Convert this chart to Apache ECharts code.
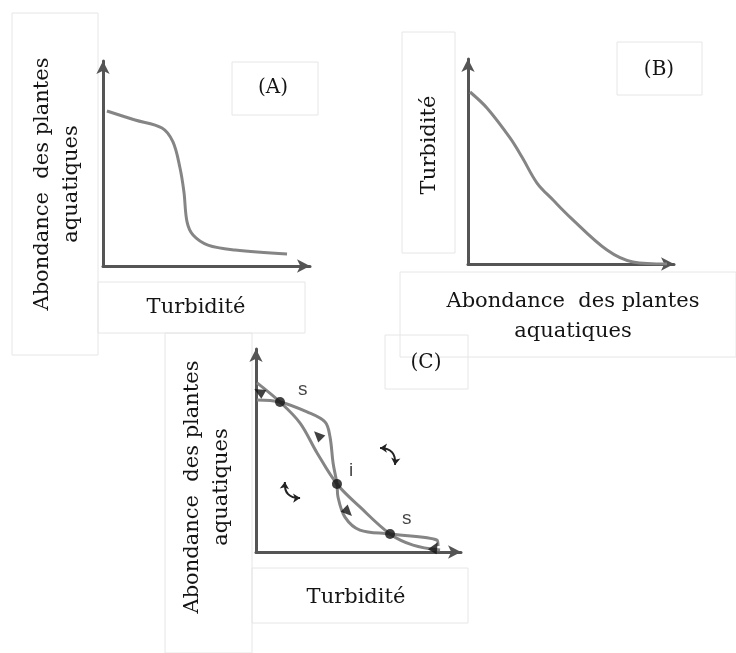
<!DOCTYPE html>
<html>
<head>
<meta charset="utf-8">
<script src="https://cdn.jsdelivr.net/npm/echarts@6/dist/echarts.min.js"></script>
<style>html,body{margin:0;padding:0;background:#fff}#c{width:736px;height:653px}</style>
</head>
<body>
<div id="c"></div>
<script>
// Panel A: abundance of aquatic plants vs turbidity
const curveA = [[1.9,75.6],[15.5,71.2],[28.5,67.3],[33.8,60.5],[37.2,47.8],[39.1,36.1],[40.6,21.5],[43.5,15.1],[50.7,10.2],[63.8,7.8],[88.9,5.9]];
// Panel B: turbidity vs abundance of aquatic plants
const curveB = [[1,83.9],[9.2,76.1],[20.4,61.5],[26.2,52.2],[33.5,39.5],[41.3,31.2],[49.5,22.9],[67.5,6.8],[80.1,1],[96.6,0]];
// Panel C: two curves crossing at equilibria
const curveC1 = [[0.5,83.3],[11.7,73.9],[21.5,63.5],[29.8,48.8],[39.5,33.5],[50.7,22.2],[65.4,8.9],[76.6,3.4],[89.8,1]];
const curveC2 = [[0.5,74.9],[11.7,73.9],[24.9,69],[33.7,64],[36.1,56.7],[37.6,43.8],[39.5,33.5],[40,27.1],[43.4,17.2],[50.7,10.8],[65.4,8.9],[88.3,5.9],[88.8,3]];
const eqPoints = [[11.7,73.9],[39.5,33.5],[65.4,8.9]];
const eqLabels = ['s','i','s'];
const arrowHeads = [[1.5,79],[30.2,57.6],[44.9,19.7],[87.3,2.5]];
const arrowRot = [60,45,-135,-30];
const curlyArrows = [[[14.1,34.5],[21.5,26.6]],[[60.5,51.2],[67.8,42.9]]];
const curlyBend = [-0.55,0.55];

const serif = 'DejaVu Serif';
const txt = '#141414';
const axisCol = '#555';
const curveCol = '#858585';
const boxCol = '#e6e6e6';

function ax(gi){
  return {type:'value',gridIndex:gi,min:0,max:100,
    axisLine:{show:true,symbol:['none','arrow'],symbolSize:[10,13],lineStyle:{color:axisCol,width:3}},
    axisTick:{show:false},axisLabel:{show:false},splitLine:{show:false}};
}
function box(x,y,w,h){return {type:'rect',shape:{x:x,y:y,width:w,height:h},style:{fill:'none',stroke:boxCol,lineWidth:1},z:0};}
function t(x,y,s,size,rot,lh,font){
  return {type:'text',x:x,y:y,rotation:rot||0,z:10,
    style:{text:s,fill:txt,font:(size)+'px "'+(font||serif)+'"',textAlign:'center',textVerticalAlign:'middle',lineHeight:lh||size}};
}

const chart = echarts.init(document.getElementById('c'));
chart.setOption({
  backgroundColor:'#fff',
  animation:false,
  grid:[
    {left:103,top:61,width:207,height:205},
    {left:468,top:59,width:206,height:205},
    {left:256,top:349,width:205,height:203}
  ],
  xAxis:[ax(0),ax(1),ax(2)],
  yAxis:[ax(0),ax(1),ax(2)],
  series:[
    {type:'line',xAxisIndex:0,yAxisIndex:0,data:curveA,smooth:0.35,showSymbol:false,lineStyle:{color:curveCol,width:3}},
    {type:'line',xAxisIndex:1,yAxisIndex:1,data:curveB,smooth:0.35,showSymbol:false,lineStyle:{color:curveCol,width:3}},
    {type:'line',xAxisIndex:2,yAxisIndex:2,data:curveC1,smooth:0.35,showSymbol:false,lineStyle:{color:curveCol,width:3}},
    {type:'line',xAxisIndex:2,yAxisIndex:2,data:curveC2,smooth:0.35,showSymbol:false,lineStyle:{color:curveCol,width:3}},
    {type:'scatter',xAxisIndex:2,yAxisIndex:2,symbolSize:10,itemStyle:{color:'#111'},z:5,
      data:eqPoints.map((p,i)=>({value:p,label:{show:true,formatter:eqLabels[i],position:'right',offset:i===0?[8,-12]:(i===1?[2,-13]:[2,-15]),
        color:txt,fontSize:19,fontFamily:'Liberation Sans'}}))},
    {type:'scatter',xAxisIndex:2,yAxisIndex:2,symbol:'triangle',symbolSize:[10,11],itemStyle:{color:'#111'},z:5,
      data:arrowHeads.map((p,i)=>({value:p,symbolRotate:arrowRot[i]}))},
    {type:'lines',coordinateSystem:'cartesian2d',xAxisIndex:2,yAxisIndex:2,symbol:['arrow','arrow'],symbolSize:7,z:5,
      lineStyle:{color:'#222',width:2,opacity:1},
      data:curlyArrows.map((c,i)=>({coords:c,lineStyle:{curveness:curlyBend[i]}}))}
  ],
  graphic:[
    box(12,13,86,342), box(232,62,86,53), box(98,282,207,51),
    box(402,32,53,221), box(617,42,85,53), box(400,272,336,85),
    box(385,335,83,54), box(165,333,87,320), box(252,568,216,55),
    t(57,184,'Abondance  des plantes\naquatiques',21,Math.PI/2,29),
    t(196,308,'Turbidité',21),
    t(273,88,'(A)',20),
    t(430,145,'Turbidité',21,Math.PI/2),
    t(573,317,'Abondance  des plantes\naquatiques',21,0,30),
    t(659,70,'(B)',20),
    t(207,487,'Abondance  des plantes\naquatiques',21,Math.PI/2,29),
    t(356,598,'Turbidité',21),
    t(426,363,'(C)',20)
  ]
});
</script>
</body>
</html>
